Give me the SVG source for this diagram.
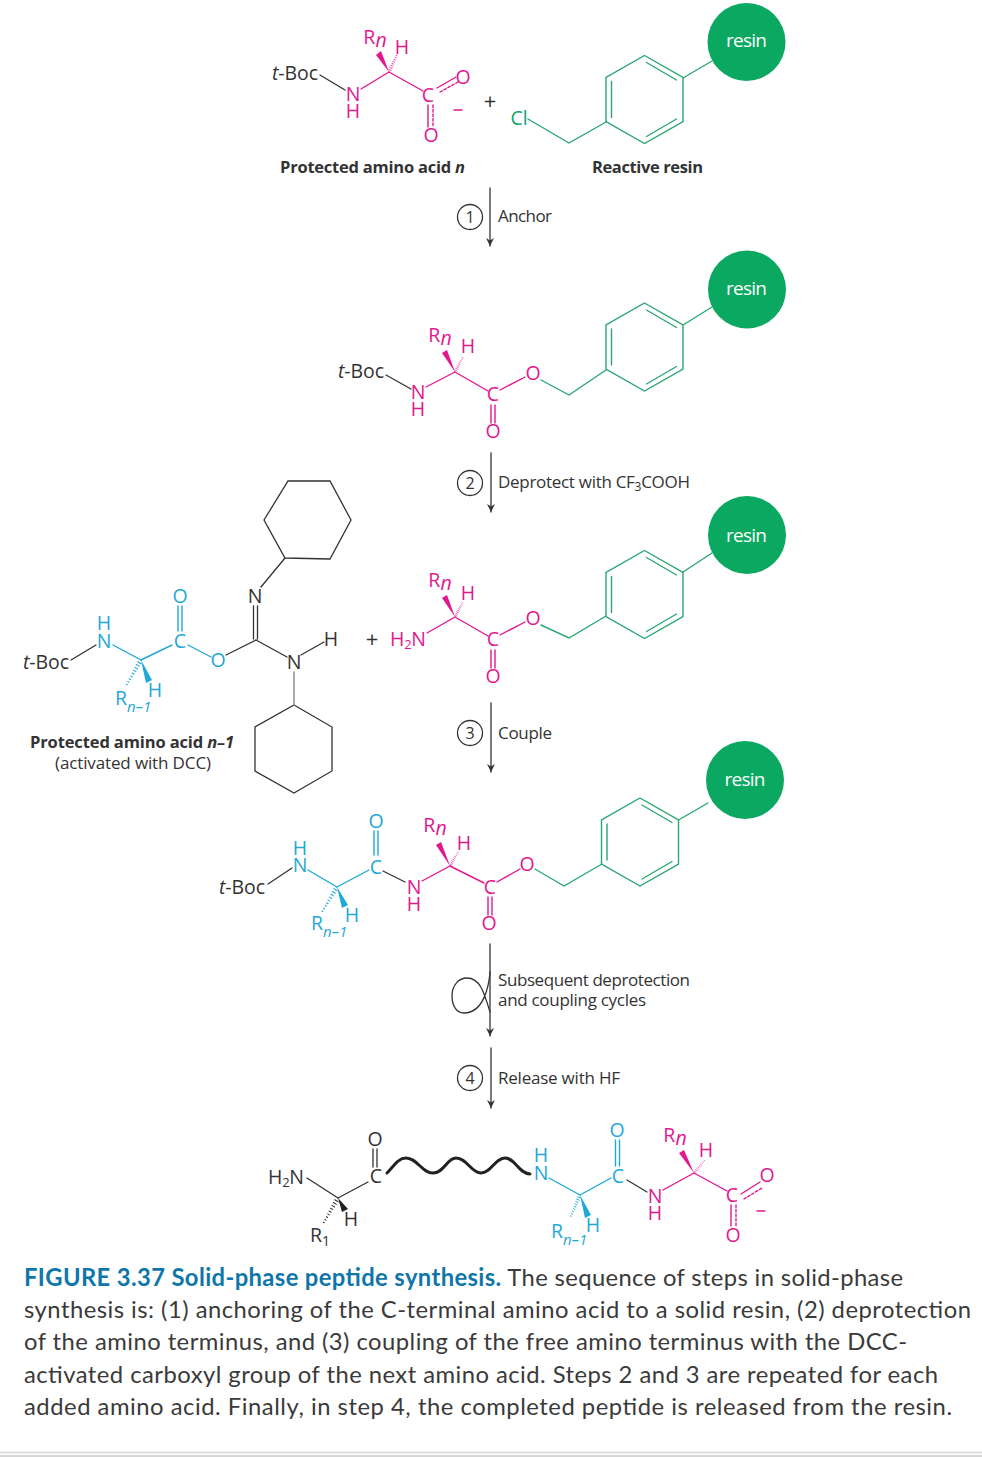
<svg xmlns="http://www.w3.org/2000/svg" width="982" height="1457" viewBox="0 0 982 1457">
<style>
text{font-family:"Open Sans","Noto Sans",sans-serif;fill:#333}
.a{font-size:19.500px;text-anchor:middle}
.l{font-size:17px}
.b{font-size:16.500px;font-weight:700}
.p{fill:#e2188f}.c{fill:#1fa8d8}.g{fill:#12a56c}
.i{font-style:italic}
.sub{font-size:15px}
line,path,polyline,polygon.o{fill:none;stroke-linecap:round}
.kl{stroke:#333;stroke-width:1.3}
.pl{stroke:#e2188f;stroke-width:1.4}
.cl{stroke:#1fa8d8;stroke-width:1.4}
.gl{stroke:#2aa673;stroke-width:1.4}
.d{stroke-dasharray:2.5 2}
.res{fill:#0aa860}
.rt{fill:#fff;font-size:19px;text-anchor:middle}
.cap{font-family:Lato,"Open Sans",sans-serif;font-size:23.800px;fill:#3a3a3a}
.capb{font-weight:700;fill:#0f76aa}
.circ{fill:#fff;stroke:#333;stroke-width:1.3}
.n{font-size:16px;text-anchor:middle}
</style>
<defs>
<path id="hash" d="M3 -1.900V1.900M6 -1.700V1.700M9 -1.500V1.500M12 -1.300V1.300M15 -1.100V1.100M18 -.9V.9M21 -.7V.7M24 -.6V.6M27 -.5V.5" fill="none" stroke-width="1"/>
<marker id="ah" markerWidth="10" markerHeight="10" refX="8" refY="5" orient="auto" markerUnits="userSpaceOnUse"><path d="M0 1L8 5L0 9L2.500 5Z" style="fill:#333;stroke:none"/></marker>
<g id="ring">
<polygon class="o gl" style="fill:none" points="0,-44 38.500,-22 38.500,22 0,44 -38.500,22 -38.500,-22"/>
<line class="gl" x1="2" y1="-37" x2="32" y2="-19.500"/><line class="gl" x1="-33" y1="-18" x2="-33" y2="18"/><line class="gl" x1="2" y1="37" x2="32" y2="19.500"/>
</g>
</defs>

<g id="connectors">
<line class="kl" x1="490" y1="188" x2="490" y2="246" marker-end="url(#ah)"/>
<line class="kl" x1="491" y1="453" x2="491" y2="512" marker-end="url(#ah)"/>
<line class="kl" x1="491" y1="703" x2="491" y2="772" marker-end="url(#ah)"/>
<line class="kl" x1="490" y1="944" x2="490" y2="1036" marker-end="url(#ah)"/>
<line class="kl" x1="491" y1="1048" x2="491" y2="1108" marker-end="url(#ah)"/>
<path class="kl" d="M490 972C489 985 484 1013 464 1013C456 1013 452 1005 452 996C452 985 459 978 467 978C480 978 484 992 490 1012"/>
</g>

<g id="step-labels">
<g id="step1"><circle class="circ" cx="470" cy="217" r="12.500"/><text class="n" x="470" y="223">1</text><text class="l" x="498" y="222" textLength="54">Anchor</text></g>
<g id="step2"><circle class="circ" cx="470" cy="483" r="12.500"/><text class="n" x="470" y="489">2</text><text class="l" x="498" y="488" textLength="192">Deprotect with CF<tspan font-size="12" dy="3">3</tspan><tspan dy="-3">COOH</tspan></text></g>
<g id="step3"><circle class="circ" cx="470" cy="733" r="12.500"/><text class="n" x="470" y="739">3</text><text class="l" x="498" y="739" textLength="54">Couple</text></g>
<g id="cycle-label"><text class="l" x="498" y="986" textLength="192">Subsequent deprotection</text><text class="l" x="498" y="1006" textLength="148">and coupling cycles</text></g>
<g id="step4"><circle class="circ" cx="470" cy="1078" r="12.500"/><text class="n" x="470" y="1084">4</text><text class="l" x="498" y="1084" textLength="122">Release with HF</text></g>
</g>

<g id="molecule-1">
<text class="a" x="295" y="80" textLength="46"><tspan class="i">t</tspan>-Boc</text>
<line class="kl" x1="320" y1="75" x2="345" y2="90"/>
<text class="a p"><tspan x="353" y="101">N</tspan><tspan x="353" y="118">H</tspan></text>
<line class="pl" x1="361" y1="89" x2="389" y2="72"/><line class="pl" x1="389" y1="72" x2="423" y2="91"/>
<polygon class="p" points="389,72 376,55 381,51"/>
<use href="#hash" transform="translate(389 72) rotate(-65) scale(.75)" class="pl"/>
<text class="a p" x="375" y="44">R<tspan class="i" dy="3">n</tspan></text><text class="a p" x="402" y="54">H</text>
<text class="a p" x="428" y="102">C</text><text class="a p" x="463" y="84">O</text><text class="a p" x="431" y="142">O</text>
<line class="pl" x1="437" y1="88" x2="456" y2="77"/><line class="pl d" x1="440" y1="92" x2="458" y2="82"/>
<line class="pl" x1="428" y1="105" x2="428" y2="127"/><line class="pl d" x1="433" y1="105" x2="433" y2="127"/>
<line class="pl" x1="454" y1="110" x2="462" y2="110"/>
</g>
<text id="plus-1" class="a" font-size="22" style="font-size:22px" x="490" y="109">+</text>
<g id="resin-1">
<text class="a g" x="519" y="125">Cl</text>
<polyline class="gl" points="528,119 569,143 606,122"/>
<use href="#ring" x="644.500" y="99.500"/>
<line class="gl" x1="683" y1="78" x2="712" y2="61"/>
<circle class="res" cx="746.500" cy="42" r="39"/><text class="rt" x="746.500" y="47" textLength="41">resin</text>
</g>
<text id="label-aa-n" class="b" x="280" y="173" textLength="185">Protected amino acid <tspan class="i">n</tspan></text>
<text id="label-resin" class="b" x="592" y="173" textLength="111">Reactive resin</text>

<g id="molecule-2">
<text class="a" x="361" y="378" textLength="46"><tspan class="i">t</tspan>-Boc</text>
<line class="kl" x1="386" y1="375" x2="411" y2="389"/>
<text class="a p"><tspan x="418" y="399">N</tspan><tspan x="418" y="416">H</tspan></text>
<line class="pl" x1="426" y1="387" x2="455" y2="372"/><line class="pl" x1="455" y1="372" x2="488" y2="391"/>
<polygon class="p" points="455,372 442,353 447,350"/>
<use href="#hash" transform="translate(455 372) rotate(-62) scale(.6)" class="pl"/>
<text class="a p" x="440" y="342">R<tspan class="i" dy="3">n</tspan></text><text class="a p" x="468" y="353">H</text>
<text class="a p" x="493" y="401">C</text><text class="a p" x="533" y="380">O</text><text class="a p" x="493" y="438">O</text>
<line class="pl" x1="491" y1="405" x2="491" y2="423"/><line class="pl" x1="495" y1="405" x2="495" y2="423"/>
<line class="pl" x1="500" y1="390" x2="525" y2="377"/>
<polyline class="gl" points="541,380 569,395 606,370"/>
<use href="#ring" x="644.500" y="347"/>
<line class="gl" x1="683" y1="325" x2="712" y2="307"/>
<circle class="res" cx="747" cy="289.500" r="39"/><text class="rt" x="746.500" y="295" textLength="41">resin</text>
</g>

<g id="dcc-reagent">
<polygon class="o kl" points="288,481 330,481 351,520 330,559 285,558 264,520"/>
<polygon class="o kl" points="294,705 332,727 332,771 294,793 255,771 255,727"/>
<line class="kl" x1="261" y1="587" x2="285" y2="558"/>
<text class="a" x="255" y="603">N</text>
<line class="kl" x1="253.500" y1="606" x2="253.500" y2="639"/><line class="kl" x1="257.500" y1="606" x2="257.500" y2="639"/>
<line class="kl" x1="226" y1="655" x2="256" y2="640"/><line class="kl" x1="256" y1="640" x2="287" y2="657"/>
<text class="a" x="294" y="669">N</text>
<line class="kl" x1="301" y1="655" x2="324" y2="642"/><text class="a" x="331" y="646">H</text>
<line x1="294" y1="672" x2="294" y2="705" stroke="#888" stroke-width="1.400"/>
</g>
<g id="molecule-n-1">
<text class="a" x="46" y="669" textLength="46"><tspan class="i">t</tspan>-Boc</text>
<line class="kl" x1="71" y1="660" x2="96" y2="645"/>
<text class="a c"><tspan x="104" y="630">H</tspan><tspan x="104" y="648">N</tspan></text>
<line class="cl" x1="113" y1="645" x2="141" y2="660"/><line class="cl" x1="141" y1="660" x2="172" y2="645"/>
<polygon class="c" points="141,660 146,683 152,680"/>
<use href="#hash" transform="translate(141 660) rotate(120) scale(1.050)" class="cl"/>
<text class="a c" x="155" y="697">H</text>
<text class="c" style="font-size:19.500px" x="115" y="705">R<tspan class="i sub" dy="7">n–1</tspan></text>
<text class="a c" x="180" y="648">C</text><text class="a c" x="180" y="603">O</text>
<line class="cl" x1="178" y1="606" x2="178" y2="631"/><line class="cl" x1="182" y1="606" x2="182" y2="631"/>
<line class="cl" x1="188" y1="645" x2="211" y2="657"/>
<text class="a c" x="218" y="667">O</text>
</g>
<text id="plus-2" class="a" style="font-size:22px" x="372" y="647">+</text>
<text id="label-aa-n1" class="b" x="30" y="748" textLength="204">Protected amino acid <tspan class="i">n–1</tspan></text>
<text id="label-dcc" class="l" x="55" y="769" textLength="156">(activated with DCC)</text>

<g id="molecule-3">
<text class="a p" x="408" y="646" textLength="36">H<tspan font-size="13" dy="3">2</tspan><tspan dy="-3">N</tspan></text>
<line class="pl" x1="427" y1="633" x2="455" y2="617"/><line class="pl" x1="455" y1="617" x2="488" y2="636"/>
<polygon class="p" points="455,617 442,598 447,595"/>
<use href="#hash" transform="translate(455 617) rotate(-62) scale(.6)" class="pl"/>
<text class="a p" x="440" y="587">R<tspan class="i" dy="3">n</tspan></text><text class="a p" x="468" y="600">H</text>
<text class="a p" x="493" y="646">C</text><text class="a p" x="533" y="625">O</text><text class="a p" x="493" y="683">O</text>
<line class="pl" x1="491" y1="650" x2="491" y2="668"/><line class="pl" x1="495" y1="650" x2="495" y2="668"/>
<line class="pl" x1="500" y1="635" x2="525" y2="622"/>
<polyline class="gl" points="541,625 569,638 606,616"/>
<use href="#ring" x="644.500" y="594.500"/>
<line class="gl" x1="683" y1="572" x2="712" y2="553"/>
<circle class="res" cx="747" cy="535" r="39"/><text class="rt" x="746.500" y="542" textLength="41">resin</text>
</g>

<g id="molecule-4">
<text class="a" x="242" y="894" textLength="46"><tspan class="i">t</tspan>-Boc</text>
<line class="kl" x1="268" y1="884" x2="292" y2="868"/>
<text class="a c"><tspan x="300" y="855">H</tspan><tspan x="300" y="872">N</tspan></text>
<line class="cl" x1="308" y1="870" x2="337" y2="887"/><line class="cl" x1="337" y1="887" x2="369" y2="870"/>
<polygon class="c" points="337,887 342,908 348,905"/>
<use href="#hash" transform="translate(337 887) rotate(121) scale(1.050)" class="cl"/>
<text class="a c" x="352" y="922">H</text>
<text class="c" style="font-size:19.500px" x="311" y="930">R<tspan class="i sub" dy="7">n–1</tspan></text>
<text class="a c" x="376" y="874">C</text><text class="a c" x="376" y="828">O</text>
<line class="cl" x1="374" y1="831" x2="374" y2="855"/><line class="cl" x1="378" y1="831" x2="378" y2="855"/>
<line class="kl" x1="383" y1="871" x2="405" y2="882"/>
<text class="a p"><tspan x="414" y="894">N</tspan><tspan x="414" y="911">H</tspan></text>
<line class="pl" x1="422" y1="881" x2="450" y2="866"/><line class="pl" x1="450" y1="866" x2="484" y2="883"/>
<polygon class="p" points="450,866 436,845 441,842"/>
<use href="#hash" transform="translate(450 866) rotate(-60) scale(.6)" class="pl"/>
<text class="a p" x="435" y="832">R<tspan class="i" dy="3">n</tspan></text><text class="a p" x="464" y="850">H</text>
<text class="a p" x="490" y="894">C</text><text class="a p" x="527" y="871">O</text><text class="a p" x="489" y="930">O</text>
<line class="pl" x1="488" y1="897" x2="488" y2="915"/><line class="pl" x1="492" y1="897" x2="492" y2="915"/>
<line class="pl" x1="497" y1="882" x2="520" y2="869"/>
<polyline class="gl" points="535,869 564,886 602,864"/>
<use href="#ring" x="640" y="842"/>
<line class="gl" x1="678.500" y1="820" x2="708" y2="803"/>
<circle class="res" cx="745" cy="780" r="39"/><text class="rt" x="745" y="786" textLength="41">resin</text>
</g>

<g id="peptide-product">
<text class="a" x="286" y="1184" textLength="36">H<tspan font-size="13" dy="3">2</tspan><tspan dy="-3">N</tspan></text>
<line class="kl" x1="307" y1="1178" x2="338" y2="1198"/><line class="kl" x1="338" y1="1198" x2="368" y2="1182"/>
<polygon fill="#222" points="338,1198 342,1212 348,1209"/>
<use href="#hash" transform="translate(338 1198) rotate(120) scale(1.050)" class="kl"/>
<text class="a" x="351" y="1226">H</text>
<text style="font-size:19.500px" x="310" y="1242">R<tspan font-size="14" dy="4">1</tspan></text>
<text class="a" x="376" y="1183">C</text><text class="a" x="375" y="1146">O</text>
<line class="kl" x1="373" y1="1149" x2="373" y2="1167"/><line class="kl" x1="377" y1="1149" x2="377" y2="1167"/>
<path d="M387 1173C394 1166 398 1158 406 1158C417 1158 422 1173 433 1173C444 1173 447 1158 456 1158C467 1158 471 1173 481 1173C491 1173 495 1158 505 1158C515 1158 518 1173 530 1174" stroke="#222" stroke-width="3"/>
<text class="a c"><tspan x="541" y="1162">H</tspan><tspan x="541" y="1180">N</tspan></text>
<line class="cl" x1="549" y1="1178" x2="580" y2="1195"/><line class="cl" x1="580" y1="1195" x2="611" y2="1178"/>
<polygon class="c" points="580,1195 585,1218 591,1215"/>
<use href="#hash" transform="translate(580 1195) rotate(113) scale(.85)" class="cl"/>
<text class="a c" x="593" y="1232">H</text>
<text class="c" style="font-size:19.500px" x="551" y="1238">R<tspan class="i sub" dy="7">n–1</tspan></text>
<text class="a c" x="618" y="1183">C</text><text class="a c" x="617" y="1137">O</text>
<line class="cl" x1="615.500" y1="1140" x2="615.500" y2="1166"/><line class="cl" x1="619.500" y1="1140" x2="619.500" y2="1166"/>
<line class="kl" x1="627" y1="1180" x2="647" y2="1192"/>
<text class="a p"><tspan x="655" y="1203">N</tspan><tspan x="655" y="1220">H</tspan></text>
<line class="pl" x1="663" y1="1190" x2="694" y2="1173"/><line class="pl" x1="694" y1="1173" x2="727" y2="1191"/>
<polygon class="p" points="694,1173 679,1153 684,1150"/>
<use href="#hash" transform="translate(694 1173) rotate(-50) scale(.6)" class="pl"/>
<text class="a p" x="675" y="1142">R<tspan class="i" dy="3">n</tspan></text><text class="a p" x="706" y="1157">H</text>
<text class="a p" x="732" y="1202">C</text><text class="a p" x="767" y="1182">O</text><text class="a p" x="733" y="1242">O</text>
<line class="pl" x1="741" y1="1194" x2="760" y2="1182"/><line class="pl d" x1="744" y1="1199" x2="762" y2="1188"/>
<line class="pl" x1="731" y1="1205" x2="731" y2="1226"/><line class="pl d" x1="736" y1="1205" x2="736" y2="1226"/>
<line class="pl" x1="757" y1="1211" x2="765" y2="1211"/>
</g>

<g id="caption">
<text class="cap" x="24" y="1286" textLength="879"><tspan class="capb">FIGURE 3.37 Solid-phase peptide synthesis.</tspan> The sequence of steps in solid-phase</text>
<text class="cap" x="24" y="1318" textLength="947">synthesis is: (1) anchoring of the C-terminal amino acid to a solid resin, (2) deprotection</text>
<text class="cap" x="24" y="1350" textLength="883">of the amino terminus, and (3) coupling of the free amino terminus with the DCC-</text>
<text class="cap" x="24" y="1383" textLength="914">activated carboxyl group of the next amino acid. Steps 2 and 3 are repeated for each</text>
<text class="cap" x="24" y="1415" textLength="928">added amino acid. Finally, in step 4, the completed peptide is released from the resin.</text>
</g>
<g id="rules">
<line x1="0" y1="1452.500" x2="982" y2="1452.500" stroke="#ddd" stroke-width="2"/>
<line x1="0" y1="1456" x2="982" y2="1456" stroke="#aaa" stroke-width="1"/>
</g>
</svg>
